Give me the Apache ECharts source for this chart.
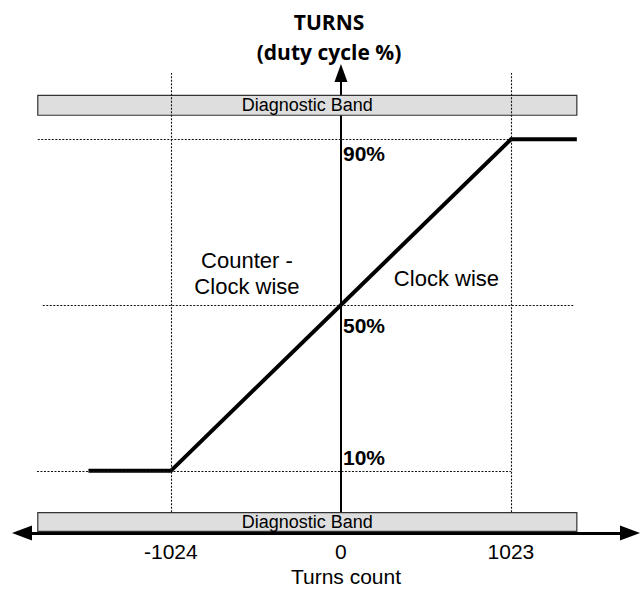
<!DOCTYPE html>
<html><head><meta charset="utf-8">
<script src="https://cdn.jsdelivr.net/npm/echarts@6/dist/echarts.min.js"></script>
<style>html,body{margin:0;padding:0;background:#fff}#c{width:644px;height:590px}</style>
</head><body><div id="c"></div>
<script>
// ---- data ----
const lineX = [-1520, -1024, 1023, 1420];
const lineY = [10, 10, 90, 90];
const xTickValues = [-1024, 0, 1023];
const xTickLabels = ['-1024', '0', '1023'];
const xAxisTitle = 'Turns count';
const pctValues = [90, 50, 10];
const pctLabels = ['90%', '50%', '10%'];
const guideX = [-1024, 1023];
const guideXTop = 106;
const guideYLevels = [90, 50, 10];
const guideYStart = [-1825, -1795, -1830];
const guideYEnd = [1023, 1402, 1023];
const bandLabel = 'Diagnostic Band';
const bandXRange = [-1825, 1420];
const bandHigh = [95.8, 100.6];
const bandLow = [-4.6, -0.1];
const regionTexts = ['Counter -\nClock wise', 'Clock wise'];
const regionX = [-566, 635];
const regionY = [57.6, 56.3];

// ---- chart ----
const FONT = 'Liberation Sans, Arial, sans-serif';
const pctOffsets = [[0, 14], [0, 20], [0, -13]];

const chart = echarts.init(document.getElementById('c'), null, {renderer: 'svg'});

const guideData = [];
guideX.forEach(x => guideData.push([{coord: [x, 0]}, {coord: [x, guideXTop]}]));
guideYLevels.forEach((y, i) => guideData.push([{coord: [guideYStart[i], y]}, {coord: [guideYEnd[i], y]}]));

const bandStyle = {color: '#dedede', borderColor: '#333', borderWidth: 1.2};
const bandLabelStyle = {show: true, position: 'inside', formatter: bandLabel, fontSize: 18, color: '#000', fontFamily: FONT};

chart.setOption({
  animation: false,
  title: [
    {
      text: 'TURNS\n(duty cycle %)',
      left: 324, top: 2, textAlign: 'center',
      textStyle: {fontFamily: 'Open Sans', fontWeight: 'bold', fontSize: 21, lineHeight: 30, color: '#000'}
    },
    {
      text: xAxisTitle,
      left: 346, top: 566, padding: 0, textAlign: 'center',
      textStyle: {fontFamily: FONT, fontWeight: 'normal', fontSize: 21, lineHeight: 21, color: '#000'}
    }
  ],
  grid: {left: 22, right: 14, top: 73, bottom: 57, containLabel: false, outerBoundsMode: 'none'},
  xAxis: {
    type: 'value', min: -1920, max: 1740,
    axisLine: {onZero: false, symbol: ['triangle', 'triangle'], symbolSize: [15, 20], lineStyle: {color: '#000', width: 3}},
    axisTick: {show: false}, splitLine: {show: false},
    axisLabel: {
      customValues: xTickValues,
      formatter: v => xTickLabels[xTickValues.indexOf(v)],
      fontSize: 21, lineHeight: 21, color: '#000', margin: 8, fontFamily: FONT
    }
  },
  yAxis: {
    type: 'value', min: -5, max: 106,
    axisLine: {onZero: true, symbol: ['none', 'triangle'], symbolSize: [13, 18], lineStyle: {color: '#000', width: 2}},
    axisTick: {show: false}, splitLine: {show: false}, axisLabel: {show: false}
  },
  series: [
    {
      name: 'guides', type: 'scatter', data: [], z: 1, silent: true,
      markLine: {
        silent: true, symbol: ['none', 'none'], label: {show: false},
        lineStyle: {type: [2, 1.5], color: '#111', width: 1.1},
        data: guideData
      }
    },
    {
      name: 'Duty cycle', type: 'line', z: 2,
      data: lineX.map((x, i) => [x, lineY[i]]),
      showSymbol: false, symbol: 'none',
      lineStyle: {color: '#000', width: 4, join: 'miter', cap: 'butt'}
    },
    {
      name: 'bands', type: 'scatter', data: [], z: 3, silent: true,
      markArea: {
        silent: true, itemStyle: bandStyle, label: bandLabelStyle,
        data: [
          [{coord: [bandXRange[0], bandHigh[0]]}, {coord: [bandXRange[1], bandHigh[1]]}],
          [{coord: [bandXRange[0], bandLow[0]]}, {coord: [bandXRange[1], bandLow[1]]}]
        ]
      }
    },
    {
      name: 'pct', type: 'scatter', z: 5, silent: true, symbolSize: 0,
      itemStyle: {opacity: 1},
      data: pctValues.map((v, i) => ({
        value: [0, v],
        label: {show: true, formatter: pctLabels[i], position: 'right', distance: 2, offset: pctOffsets[i],
                fontSize: 21, fontWeight: 'bold', color: '#000', opacity: 1, fontFamily: FONT}
      }))
    },
    {
      name: 'regions', type: 'scatter', z: 5, silent: true, symbolSize: 0,
      itemStyle: {opacity: 1},
      data: regionTexts.map((t, i) => ({
        value: [regionX[i], regionY[i]],
        label: {show: true, formatter: t, position: 'inside', fontSize: 22, lineHeight: 26, color: '#000', opacity: 1, fontFamily: FONT, align: 'center'}
      }))
    }
  ]
});
</script></body></html>
